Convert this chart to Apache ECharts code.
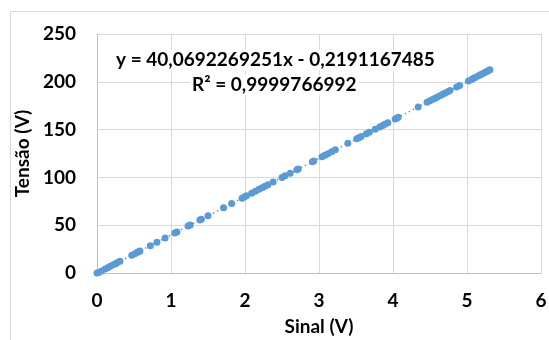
<!DOCTYPE html>
<html><head><meta charset="utf-8">
<script src="https://cdn.jsdelivr.net/npm/echarts@6/dist/echarts.min.js"></script>
<style>html,body{margin:0;padding:0;background:#fff}#c{width:549px;height:340px}</style>
</head><body><div id="c"></div>
<script>
const sinal = [0.00,0.02,0.06,0.11,0.15,0.18,0.22,0.25,0.27,0.31,0.47,0.51,0.54,0.56,0.58,0.72,0.81,0.92,1.05,1.08,1.23,1.26,1.39,1.41,1.50,1.71,1.82,1.96,1.99,2.02,2.09,2.14,2.19,2.23,2.27,2.31,2.38,2.50,2.54,2.61,2.70,2.72,2.91,2.93,3.04,3.08,3.12,3.17,3.22,3.39,3.51,3.54,3.57,3.64,3.68,3.76,3.82,3.86,3.89,3.93,4.03,4.05,4.07,4.34,4.46,4.50,4.54,4.57,4.60,4.64,4.67,4.70,4.74,4.77,4.86,4.90,5.02,5.06,5.09,5.11,5.15,5.18,5.21,5.24,5.27,5.29,5.31];
const tensao = [0.0,0.6,2.2,4.2,5.8,7.0,8.6,9.8,10.6,12.2,18.6,20.2,21.4,22.2,23.0,28.6,32.2,36.6,41.8,43.0,49.1,50.3,55.5,56.3,59.9,68.3,72.7,78.3,79.5,80.7,83.5,85.5,87.5,89.1,90.7,92.3,95.1,100.0,101.6,104.4,108.0,108.8,116.4,117.2,121.6,123.2,124.8,126.8,128.8,135.6,140.4,141.6,142.8,145.6,147.2,150.4,152.8,154.4,155.6,157.2,161.2,162.0,162.8,173.7,178.5,180.1,181.7,182.9,184.1,185.7,186.9,188.1,189.7,190.9,194.5,196.1,200.9,202.5,203.7,204.5,206.1,207.3,208.5,209.7,210.9,211.7,212.5];
const slope = 40.0692269251, intercept = -0.2191167485;
const eqText = 'y = 40,0692269251x - 0,2191167485';
const r2Text = 'R² = 0,9999766992';
const xTicks = [0,1,2,3,4,5,6];
const yTicks = [0,50,100,150,200,250];

const xMin = Math.min(...sinal), xMax = Math.max(...sinal);
const trend = [[xMin, slope*xMin+intercept],[xMax, slope*xMax+intercept]];
const FONT = 'Lato';
const FS = 19;
const chart = echarts.init(document.getElementById('c'), null, {renderer:'canvas'});
chart.setOption({
  animation:false,
  textStyle:{fontFamily:FONT},
  grid:{left:97,right:8,top:34,bottom:67,containLabel:false,outerBoundsMode:'none'},
  graphic:[
    {type:'rect',shape:{x:10.5,y:11.5,width:700,height:500},style:{fill:null,stroke:'#D9D9D9',lineWidth:1},silent:true,z:-1},
    {type:'text',x:114,y:60,z:100,style:{text:eqText,font:'bold '+FS+'px '+FONT,fill:'#000',verticalAlign:'middle',backgroundColor:'#fff',padding:[1,2]}},
    {type:'text',x:190,y:85,z:100,style:{text:r2Text,font:'bold '+FS+'px '+FONT,fill:'#000',verticalAlign:'middle',backgroundColor:'#fff',padding:[1,2]}}
  ],
  xAxis:{type:'value',min:xTicks[0],max:xTicks[xTicks.length-1],interval:1,
    name:'Sinal (V)',nameLocation:'middle',nameGap:44,
    nameTextStyle:{fontFamily:FONT,fontWeight:'bold',fontSize:FS,color:'#000'},
    axisLine:{show:true,lineStyle:{color:'#BFBFBF'}},axisTick:{show:false},
    axisLabel:{fontFamily:FONT,fontWeight:'bold',fontSize:FS,color:'#000',margin:18},
    splitLine:{show:true,lineStyle:{color:'#D9D9D9'}}},
  yAxis:{type:'value',min:yTicks[0],max:yTicks[yTicks.length-1],interval:50,
    name:'Tensão (V)',nameLocation:'middle',nameGap:60,nameRotate:90,
    nameTextStyle:{fontFamily:FONT,fontWeight:'bold',fontSize:FS,color:'#000'},
    axisLine:{show:true,lineStyle:{color:'#BFBFBF'}},axisTick:{show:false},
    axisLabel:{fontFamily:FONT,fontWeight:'bold',fontSize:FS,color:'#000',margin:21},
    splitLine:{show:true,lineStyle:{color:'#D9D9D9'}}},
  series:[
    {type:'line',data:trend,symbol:'none',lineStyle:{color:'#5B9BD5',width:1.5,type:[1.5,3]},z:1},
    {type:'scatter',data:sinal.map((x,i)=>[x,tensao[i]]),symbolSize:7,itemStyle:{color:'#5B9BD5',opacity:1},z:2}
  ]
});
</script></body></html>
